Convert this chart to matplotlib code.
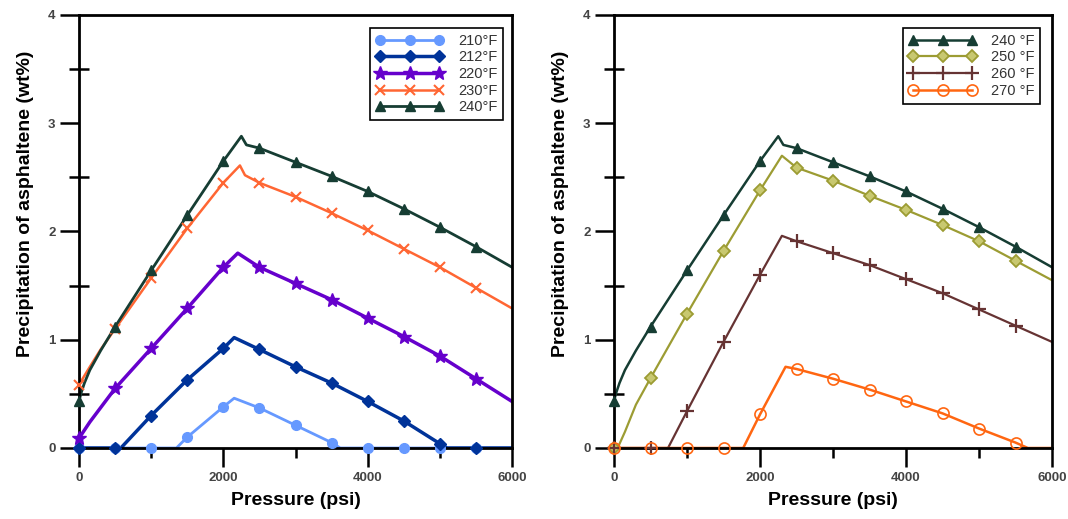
import matplotlib
matplotlib.use("Agg")
import matplotlib.pyplot as plt
from matplotlib.lines import Line2D
from matplotlib.ticker import MultipleLocator
import numpy as np

plt.rcParams['font.family'] = ['Liberation Sans', 'DejaVu Sans']

# ---------------- data ----------------
# Left panel
p210 = [0, 500, 1000, 1350, 1500, 2000, 2150, 2500, 3000, 3500, 3620, 4000, 4500, 5000, 5500, 6000]
v210 = [0, 0, 0, 0, 0.10, 0.38, 0.46, 0.37, 0.21, 0.05, 0, 0, 0, 0, 0, 0]

p212 = [0, 500, 580, 1000, 1500, 2000, 2150, 2500, 3000, 3500, 4000, 4500, 5000, 5100, 5500, 6000]
v212 = [0, 0, 0, 0.30, 0.63, 0.92, 1.02, 0.91, 0.75, 0.60, 0.43, 0.25, 0.04, 0, 0, 0]

p220 = [0, 150, 500, 1000, 1500, 2000, 2200, 2500, 3000, 3500, 4000, 4500, 5000, 5500, 6000]
v220 = [0.09, 0.24, 0.55, 0.92, 1.29, 1.67, 1.80, 1.67, 1.52, 1.37, 1.20, 1.03, 0.85, 0.64, 0.43]

p230 = [0, 50, 150, 300, 500, 1000, 1500, 2000, 2230, 2300, 2500, 3000, 3500, 4000, 4500, 5000, 5500, 6000]
v230 = [0.58, 0.64, 0.75, 0.91, 1.10, 1.57, 2.03, 2.45, 2.61, 2.52, 2.45, 2.32, 2.17, 2.01, 1.84, 1.67, 1.48, 1.29]

p240 = [0, 25, 75, 150, 300, 500, 1000, 1500, 2000, 2250, 2320, 2500, 3000, 3500, 4000, 4500, 5000, 5500, 6000]
v240 = [0.43, 0.50, 0.60, 0.72, 0.90, 1.12, 1.64, 2.15, 2.65, 2.88, 2.80, 2.77, 2.64, 2.51, 2.37, 2.21, 2.04, 1.86, 1.67]

# Right panel
p250 = [0, 50, 150, 300, 500, 1000, 1500, 2000, 2300, 2500, 3000, 3500, 4000, 4500, 5000, 5500, 6000]
v250 = [0, 0, 0.15, 0.40, 0.645, 1.24, 1.82, 2.38, 2.70, 2.59, 2.47, 2.33, 2.20, 2.06, 1.91, 1.73, 1.55]

p260 = [0, 500, 740, 1000, 1500, 2000, 2300, 2500, 3000, 3500, 4000, 4500, 5000, 5500, 6000]
v260 = [0, 0, 0, 0.34, 0.98, 1.60, 1.96, 1.91, 1.80, 1.69, 1.56, 1.43, 1.28, 1.13, 0.98]

p270 = [0, 500, 1000, 1500, 1770, 2000, 2350, 2500, 3000, 3500, 4000, 4500, 5000, 5500, 5670, 6000]
v270 = [0, 0, 0, 0, 0, 0.31, 0.75, 0.73, 0.64, 0.54, 0.43, 0.32, 0.18, 0.05, 0, 0]

x_ticks = [0, 2000, 4000, 6000]
y_ticks = [0, 1, 2, 3, 4]

left_series = [
    ("210°F", p210, v210, dict(color="#6699FF", marker="o", ms=7, mfc="#6699FF", mec="#6699FF", lw=2.0)),
    ("212°F", p212, v212, dict(color="#003399", marker="D", ms=6.5, mfc="#003399", mec="#003399", lw=2.5)),
    ("220°F", p220, v220, dict(color="#6600CC", marker="*", ms=10, mfc="#6600CC", mec="#6600CC", lw=2.5)),
    ("230°F", p230, v230, dict(color="#FF6633", marker="x", ms=7, mfc="#FF6633", mec="#FF6633", mew=1.5, lw=1.8)),
    ("240°F", p240, v240, dict(color="#163D33", marker="^", ms=6.5, mfc="#163D33", mec="#163D33", lw=2.0)),
]
right_series = [
    ("240 °F", p240, v240, dict(color="#163D33", marker="^", ms=6.5, mfc="#163D33", mec="#163D33", lw=1.8)),
    ("250 °F", p250, v250, dict(color="#9C9C33", marker="D", ms=6, mfc="#C8C870", mec="#9C9C33", mew=1.3, lw=1.6)),
    ("260 °F", p260, v260, dict(color="#663333", marker="+", ms=10, mfc="#663333", mec="#663333", mew=1.6, lw=1.6)),
    ("270 °F", p270, v270, dict(color="#FF6611", marker="o", ms=8, mfc="none", mec="#FF6611", mew=1.2, lw=1.8)),
]

fig = plt.figure(figsize=(10.68, 5.19), dpi=100)
ax1 = fig.add_axes([79/1068, 71/519, 433/1068, 433/519])
ax2 = fig.add_axes([614/1068, 71/519, 438/1068, 433/519])


def draw(ax, series, legend_anchor):
    handles = []
    for label, p, v, st in series:
        p = np.asarray(p)
        v = np.asarray(v)
        mk = (p % 500 == 0) & (p < 6000)
        ax.plot(p, v, color=st["color"], lw=st["lw"], solid_joinstyle="round", zorder=2)
        ax.plot(p[mk], v[mk], ls="none", marker=st["marker"], ms=st["ms"],
                mfc=st["mfc"], mec=st["mec"], mew=st.get("mew", 1.0), zorder=3, clip_on=False)
        handles.append(Line2D([], [], color=st["color"], lw=st["lw"], marker=st["marker"],
                              ms=st["ms"], mfc=st["mfc"], mec=st["mec"], mew=st.get("mew", 1.0),
                              label=label))
    ax.set_xlim(0, 6000)
    ax.set_ylim(0, 4)
    ax.set_xticks(x_ticks)
    ax.set_yticks(y_ticks)
    ax.xaxis.set_minor_locator(MultipleLocator(1000))
    ax.yaxis.set_minor_locator(MultipleLocator(0.5))
    ax.tick_params(axis="both", which="major", direction="out", length=14, width=1.8,
                   labelsize=9.5, labelcolor="#444444", pad=3)
    ax.tick_params(axis="x", which="minor", direction="out", length=7, width=1.8)
    ax.tick_params(axis="y", which="minor", direction="inout", length=14, width=1.8)
    for lab in ax.get_xticklabels() + ax.get_yticklabels():
        lab.set_fontweight("bold")
    for sp in ax.spines.values():
        sp.set_linewidth(2.0)
        sp.set_color("black")
    ax.set_xlabel("Pressure (psi)", fontsize=14, fontweight="bold", labelpad=6)
    ax.set_ylabel("Precipitation of asphaltene (wt%)", fontsize=14, fontweight="bold", labelpad=10)
    ax.yaxis.label.set_y(0.565)
    leg = ax.legend(handles=handles, loc="upper right", bbox_to_anchor=legend_anchor,
                    borderaxespad=0, numpoints=3, handlelength=4.6, fontsize=10.5,
                    fancybox=False, framealpha=1, edgecolor="black", labelspacing=0.18,
                    handletextpad=1.0, borderpad=0.4)
    leg.get_frame().set_linewidth(1.2)
    for t in leg.get_texts():
        t.set_color("#333333")


draw(ax1, left_series, ((503 - 79) / 433, (448 - 28) / 433))
draw(ax2, right_series, ((1040 - 614) / 438, (448 - 28) / 433))

fig.savefig("out.png", dpi=100)
